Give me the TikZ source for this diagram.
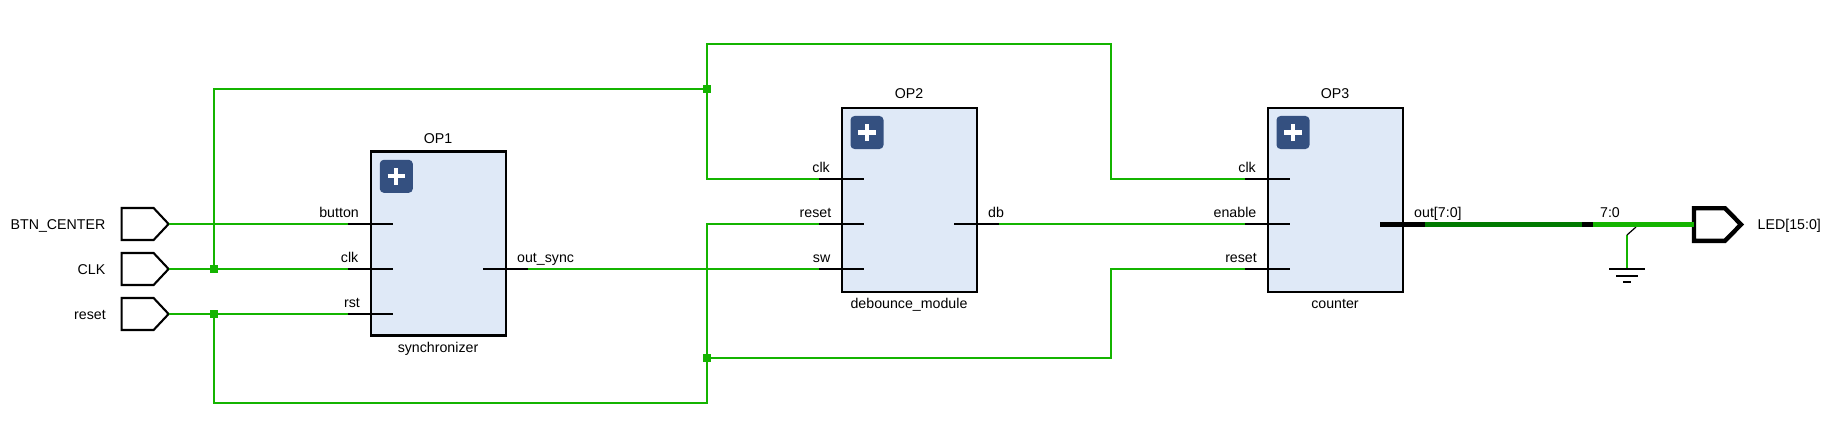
\documentclass[tikz,border=0pt]{standalone}
\usepackage{fontspec}
\setmainfont{Liberation Sans}
\usepackage{xcolor}
\usepackage{tikz}
\definecolor{netgreen}{RGB}{20,180,0}
\definecolor{busgreen}{RGB}{0,122,0}
\definecolor{blockfill}{RGB}{223,233,247}
\definecolor{plusblue}{RGB}{52,80,128}
\begin{document}
\begin{tikzpicture}[x=1pt,y=1pt]
\tikzstyle{every node}+=[inner sep=0pt,font=\fontsize{14.2}{16}\selectfont]
\tikzstyle{wire}=[netgreen,line width=2.3pt]
\tikzstyle{pin}=[black,line width=2.2pt]
\tikzstyle{port}=[black,line width=2.1pt,line join=miter]
\tikzstyle{blockbox}=[draw=black,fill=blockfill,line width=2.4pt,minimum width=135pt,minimum height=184pt]
\tikzstyle{plusbox}=[fill=plusblue,rounded corners=4pt,minimum width=33pt,minimum height=33pt]
\tikzstyle{junction}=[fill=netgreen,minimum size=8pt]
\useasboundingbox (0,0) rectangle (1835,-425);
% blocks
\node [blockbox] (op1) at (438.5,-243.5) {};
\node [blockbox] (op2) at (909.5,-200) {};
\node [blockbox] (op3) at (1335.5,-200) {};
\node [plusbox] (plus1) at (396.3,-176.3) {};
\node [plusbox] (plus2) at (867,-132.5) {};
\node [plusbox] (plus3) at (1293,-132.5) {};
\foreach \p in {plus1,plus2,plus3} {
  \draw [white,line width=4pt] (\p.center) +(-8.7,0) -- +(8.7,0);
  \draw [white,line width=4pt] (\p.center) +(0,-8.7) -- +(0,8.7);
}
\node (op1name) at (438,-143) [anchor=base] {OP1};
\node (op2name) at (909,-99) [anchor=base] {OP2};
\node (op3name) at (1335,-99) [anchor=base] {OP3};
\node (op1cell) at (438,-352) [anchor=base] {synchronizer};
\node (op2cell) at (909,-308) [anchor=base] {debounce\_module};
\node (op3cell) at (1335,-308) [anchor=base] {counter};
% pin ends
\coordinate (op1button) at (348,-224);
\coordinate (op1clk) at (348,-269);
\coordinate (op1rst) at (348,-314);
\coordinate (op1out) at (528,-269);
\coordinate (op2clk) at (819,-179);
\coordinate (op2reset) at (819,-224);
\coordinate (op2sw) at (819,-269);
\coordinate (op2db) at (999,-224);
\coordinate (op3clk) at (1245,-179);
\coordinate (op3enable) at (1245,-224);
\coordinate (op3reset) at (1245,-269);
\coordinate (op3out) at (1425,-224.5);
% input ports
\coordinate (btnport) at (168.6,-224);
\coordinate (clkport) at (168.6,-269);
\coordinate (rstport) at (168.6,-314);
\coordinate (ledport) at (1694,-224.5);
\foreach \p in {btnport,clkport,rstport} {
  \draw [port] (\p) ++(-47,16) -- ++(32,0) -- (\p) -- ++(-15,-16) -- ++(-32,0) -- cycle;
}
\draw [port,line width=4.4pt] (ledport) ++(0,16.3) -- ++(31,0) -- ++(16,-16.3) -- ++(-16,-16.3) -- ++(-31,0) -- cycle;
\node (btnlabel) at (105.5,-229) [anchor=base east] {BTN\_CENTER};
\node (clklabel) at (105.5,-274) [anchor=base east] {CLK};
\node (rstlabel) at (106,-319) [anchor=base east] {reset};
\node (ledlabel) at (1757.5,-229) [anchor=base west] {LED[15:0]};
% nets
\coordinate (clktop) at (1111,-44);
\coordinate (rstbottom) at (707,-403);
\coordinate (rstturn) at (1111,-358);
\node [junction] (clkjoin) at (214,-269) {};
\node [junction] (rstjoin) at (214,-314) {};
\node [junction] (clkfork) at (707,-89) {};
\node [junction] (rstfork) at (707,-358) {};
\draw [wire] (btnport) -- (op1button);
\draw [wire] (clkport) -- (op1clk);
\draw [wire] (rstport) -- (op1rst);
\draw [wire] (clkjoin.center) |- (clkfork.center);
\draw [wire] (clkfork.center) |- (op2clk);
\draw [wire] (clkfork.center) |- (clktop) |- (op3clk);
\draw [wire] (rstjoin.center) |- (rstbottom) |- (op2reset);
\draw [wire] (rstfork.center) -- (rstturn) |- (op3reset);
\draw [wire] (op1out) -- (op2sw);
\draw [wire] (op2db) -- (op3enable);
% pins
\foreach \p in {op1button,op1clk,op1rst,op2clk,op2reset,op2sw,op3clk,op3enable,op3reset} {
  \draw [pin] (\p) -- +(45,0);
}
\foreach \p in {op1out,op2db} {
  \draw [pin] (\p) -- +(-45,0);
}
\node (op1buttonlabel) at (359,-217) [anchor=base east] {button};
\node (op1clklabel) at (358.5,-262) [anchor=base east] {clk};
\node (op1rstlabel) at (360,-307) [anchor=base east] {rst};
\node (op1outlabel) at (517,-262) [anchor=base west] {out\_sync};
\node (op2clklabel) at (830,-172) [anchor=base east] {clk};
\node (op2resetlabel) at (831.5,-217) [anchor=base east] {reset};
\node (op2swlabel) at (830.5,-262) [anchor=base east] {sw};
\node (op2dblabel) at (988,-217) [anchor=base west] {db};
\node (op3clklabel) at (1256,-172) [anchor=base east] {clk};
\node (op3enablelabel) at (1256.5,-217) [anchor=base east] {enable};
\node (op3resetlabel) at (1257,-262) [anchor=base east] {reset};
\node (op3outlabel) at (1414,-217) [anchor=base west] {out[7:0]};
\node (slicelabel) at (1610,-217) [anchor=base] {7:0};
% bus out and ground
\coordinate (sliceleft) at (1582,-224.5);
\coordinate (sliceright) at (1593,-224.5);
\coordinate (gndtap) at (1636,-227);
\coordinate (gndbend) at (1627,-235);
\coordinate (gndtop) at (1627,-269);
\draw [black,line width=5pt] (op3out) -- +(-45,0);
\draw [busgreen,line width=5pt] (op3out) -- (sliceleft);
\draw [black,line width=5pt] (sliceleft) -- (sliceright);
\draw [wire] (gndbend) -- (gndtop);
\draw [black,line width=1.2pt] (gndtap) -- (gndbend);
\draw [netgreen,line width=5pt] (sliceright) -- (ledport);
\draw [pin] (gndtop) +(-18,0) -- +(18,0);
\draw [pin] (gndtop) +(-11,-7) -- +(11,-7);
\draw [pin] (gndtop) +(-4,-13) -- +(4,-13);
\end{tikzpicture}
\end{document}
